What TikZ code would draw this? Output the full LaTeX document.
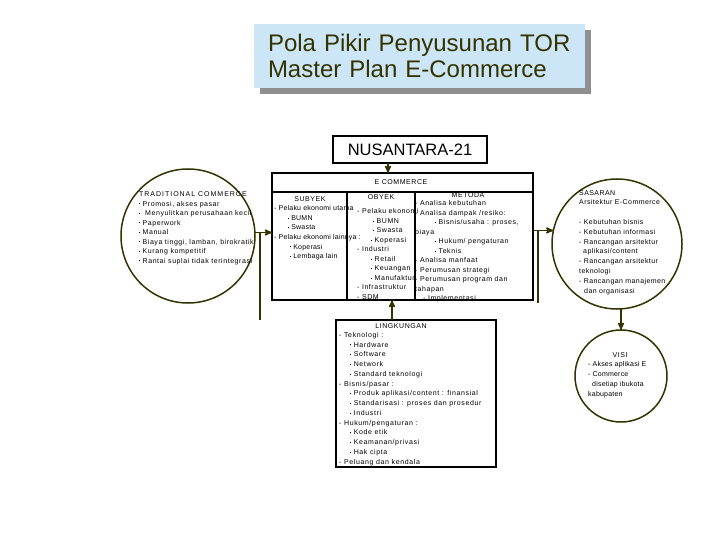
\documentclass[tikz,border=0pt]{standalone}
\usepackage{fontspec}
\setmainfont{Liberation Sans}
\usetikzlibrary{arrows,positioning}

\definecolor{olivedark}{HTML}{333300}
\definecolor{titleblue}{HTML}{CCE6F7}
\definecolor{shadowgray}{HTML}{8F8F8F}

\newcommand{\subdot}{\rule[1.7pt]{1pt}{1pt}}
\newcommand{\spaced}[1]{\addfontfeatures{LetterSpace=#1}}

\tikzset{
  lbl/.style={anchor=north west, inner sep=0pt, align=left, font=\fontsize{7}{9.5}\selectfont\spaced{8}},
  head/.style={inner sep=0pt, font=\fontsize{7}{8}\selectfont\spaced{8}},
  ring/.style={circle, draw=olivedark, line width=1.5pt, inner sep=0pt, outer sep=0pt},
  frame/.style={draw, line width=1.5pt, inner sep=0pt, outer sep=0pt},
  link/.style={draw=olivedark, line width=1.5pt},
}

\begin{document}
\begin{tikzpicture}[x=1pt,y=-1pt,>=stealth']
  \useasboundingbox (0,0) rectangle (720,540);

  % judul
  \node[fill=shadowgray, minimum width=331pt, minimum height=64pt] (tshadow) at (425,62) {};
  \node[fill=titleblue, minimum height=64pt, text width=303pt, inner xsep=14pt, align=left,
        font=\fontsize{24}{25.5}\selectfont, text=olivedark] (title) at (419.5,56)
        {Pola Pikir Penyusunan TOR\\Master Plan E-Commerce};

  \node[frame, minimum width=154pt, minimum height=27pt, font=\fontsize{16.5}{18}\selectfont] (nusa) at (410,149.5) {NUSANTARA-21};

  % e-commerce
  \node[frame, minimum width=261pt, minimum height=127pt] (ecom) at (402.5,236.5) {};
  \node[head] (ectitle) at (401,182) {E COMMERCE};
  \node[frame, anchor=north west, minimum width=75pt, minimum height=108pt] (subyek) at ([yshift=-19pt]ecom.north west) {};
  \node[frame, anchor=north west, minimum width=68pt, minimum height=108pt] (obyek) at (subyek.north east) {};
  \node[frame, anchor=north west, minimum width=118pt, minimum height=108pt] (metoda) at (obyek.north east) {};

  \node[head] (subhead) at (310,199) {SUBYEK};
  \node[head] (obhead) at (381,197) {OBYEK};
  \node[head] (methead) at (468,195) {METODA};

  \node[lbl, font=\fontsize{7}{9.6}\selectfont\spaced{3}] (subtext) at (274,205.5) {- Pelaku ekonomi utama\\
    \hspace{14pt}\subdot\ BUMN\\
    \hspace{14pt}\subdot\ Swasta\\
    - Pelaku ekonomi lainnya :\\
    \hspace{16pt}\subdot\ Koperasi\\
    \hspace{16pt}\subdot\ Lembaga lain};

  \node[lbl] (obtext) at (357,208.5) {- Pelaku ekonomi\\
    \hspace{16pt}\subdot\ BUMN\\
    \hspace{16pt}\subdot\ Swasta\\
    \hspace{14pt}\subdot\ Koperasi\\
    - Industri\\
    \hspace{14pt}\subdot\ Retail\\
    \hspace{14pt}\subdot\ Keuangan\\
    \hspace{14pt}\subdot\ Manufaktur\\
    - Infrastruktur\\
    - SDM};

  \node[lbl] (mettext) at (415,200.5) {- Analisa kebutuhan\\
    - Analisa dampak /resiko:\\
    \hspace{20pt}\subdot\ Bisnis/usaha : proses,\\
    biaya\\
    \hspace{20pt}\subdot\ Hukum/ pengaturan\\
    \hspace{20pt}\subdot\ Teknis\\
    - Analisa manfaat\\
    - Perumusan strategi\\
    - Perumusan program dan\\
    tahapan\\
    \hspace{8pt}- Implementasi};

  % traditional commerce
  \node[ring, minimum size=134pt] (trad) at (188,236) {};
  \node[lbl] (tradtext) at (139,191.5) {{\spaced{14}TRADITIONAL COMMERCE}\\
    \subdot\ Promosi, akses pasar\\
    \subdot\ \ Menyulitkan perusahaan kecil\\
    \subdot\ Paperwork\\
    \subdot\ Manual\\
    \subdot\ Biaya tinggi, lamban, birokratik\\
    \subdot\ Kurang kompetitif\\
    \subdot\ Rantai suplai tidak terintegrasi};

  % sasaran
  \node[ring, minimum size=130pt] (sas) at (617,244) {};
  \node[lbl, font=\fontsize{7}{9.8}\selectfont\spaced{6}] (sastext) at (579,190) {SASARAN\\
    Arsitektur E-Commerce\\[9.8pt]
    - Kebutuhan bisnis\\
    - Kebutuhan informasi\\
    - Rancangan arsitektur\\
    \hspace{4pt}aplikasi/content\\
    - Rancangan arsitektur\\
    teknologi\\
    - Rancangan manajemen\\
    \hspace{5pt}dan organisasi};

  % visi
  \node[ring, minimum size=92pt] (visi) at (621,376) {};
  \node[head] (visihead) at (620,355) {VISI};
  \node[lbl, font=\fontsize{7}{10}\selectfont\spaced{3}] (visitext) at (588,361) {- Akses aplikasi E\\
    - Commerce\\
    \hspace{4pt}disetiap ibukota\\
    kabupaten};

  % lingkungan
  \node[frame, minimum width=160pt, minimum height=147pt] (ling) at (416,393.5) {};
  \node[head] (linghead) at (401,326) {LINGKUNGAN};
  \node[lbl, font=\fontsize{7}{9.77}\selectfont\spaced{9}] (lingtext) at (339,332) {- Teknologi :\\
    \hspace{11pt}\subdot\ Hardware\\
    \hspace{11pt}\subdot\ Software\\
    \hspace{11pt}\subdot\ Network\\
    \hspace{11pt}\subdot\ Standard teknologi\\
    - Bisnis/pasar :\\
    \hspace{11pt}\subdot\ Produk aplikasi/content : finansial\\
    \hspace{11pt}\subdot\ Standarisasi : proses dan prosedur\\
    \hspace{11pt}\subdot\ Industri\\
    - Hukum/pengaturan :\\
    \hspace{11pt}\subdot\ Kode etik\\
    \hspace{11pt}\subdot\ Keamanan/privasi\\
    \hspace{11pt}\subdot\ Hak cipta\\
    - Peluang dan kendala};

  % penghubung
  \coordinate (nx) at (388,0);
  \coordinate (lx) at (260,320);
  \coordinate (rx) at (538,303);
  \coordinate (bx) at (392,0);
  \draw[link,->] (nusa.south -| nx) -- (ecom.north -| nx);
  \draw[link,->] (trad.3) -- (trad.3 -| ecom.west);
  \draw[link] (trad.3 -| lx) -- (lx);
  \draw[link,->] (sas.168 -| ecom.east) -- (sas.168);
  \draw[link] (sas.168 -| rx) -- (rx);
  \draw[link,->] (sas.south -| visi.north) -- (visi.north);
  \draw[link,->] (ling.north -| bx) -- (ecom.south -| bx);
\end{tikzpicture}
\end{document}
